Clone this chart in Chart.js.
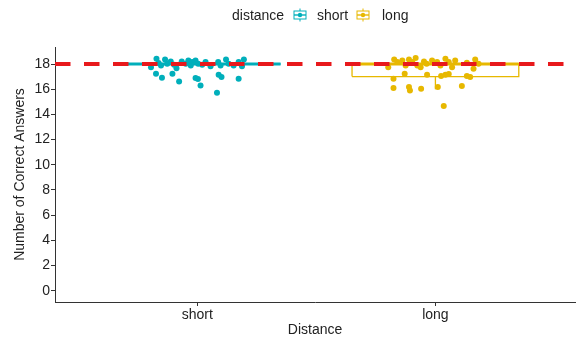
<!DOCTYPE html>
<html>
<head>
<meta charset="utf-8">
<script src="https://cdn.jsdelivr.net/npm/chart.js@4/dist/chart.umd.min.js"></script>
<style>
  html, body { margin: 0; padding: 0; background: #fff; }
  #wrap { position: relative; width: 579px; height: 344px; }
  #c { position: absolute; left: 0; top: 0; }
  .lg { position: absolute; top: 7px; font: 14px "Liberation Sans", Arial, sans-serif; color: #1f1f1f; line-height: 16px; white-space: nowrap; }
  .ic { position: absolute; top: 8px; }
</style>
</head>
<body>
<div id="wrap">
  <canvas id="c" width="579" height="344"></canvas>
</div>
<script>
// Categories, colours and axis ticks
const categories = ['short', 'long'];
const seriesColors = ['#00AFBB', '#E7B800'];
const yTicks = [0, 2, 4, 6, 8, 10, 12, 14, 16, 18];
const targetScore = 18;

// Jittered observations: x is the jittered category position, y the score
const shortX = [0.806, 0.829, 0.838, 0.848, 0.865, 0.874, 0.889, 0.903, 0.913, 0.935, 0.952, 0.963, 0.973, 0.979, 0.993, 1.004, 1.021, 1.035, 1.056, 1.088, 1.098, 1.121, 1.132, 1.153, 1.174, 1.188, 1.196,
                0.827, 0.852, 0.896, 0.924, 0.993, 1.003, 1.014, 1.090, 1.102, 1.083, 1.174];
const shortY = [17.75, 18.41, 18.07, 17.89, 18.36, 18.02, 18.20, 17.94, 17.67, 18.20, 18.02, 18.28, 17.89, 18.15, 18.28, 18.02, 17.94, 18.15, 17.83, 18.15, 17.89, 18.36, 18.02, 17.89, 18.15, 17.83, 18.36,
                17.22, 16.90, 17.22, 16.62, 16.88, 16.80, 16.30, 17.14, 16.96, 15.71, 16.83];

const longX = [1.802, 1.827, 1.840, 1.861, 1.875, 1.889, 1.903, 1.917, 1.924, 1.938, 1.952, 1.963, 1.986, 2.007, 2.021, 2.042, 2.056, 2.070, 2.083, 2.132, 2.160, 2.167, 2.181,
               1.824, 1.871, 1.965, 2.024, 2.042, 2.056, 2.132, 2.146, 1.824, 1.889, 1.893, 1.940, 2.010, 2.111, 2.035];
const longY = [17.75, 18.36, 18.15, 18.28, 17.89, 18.36, 18.15, 18.47, 17.89, 17.75, 18.20, 18.02, 18.28, 18.15, 17.89, 18.41, 18.15, 17.75, 18.28, 18.10, 17.62, 18.36, 18.02,
               16.83, 17.22, 17.14, 17.04, 17.14, 17.20, 17.04, 16.96, 16.09, 16.17, 15.90, 16.03, 16.17, 16.25, 14.66];

// Box-plot summaries per category
const boxLower = [18, 17];
const boxMedian = [18, 18];
const boxUpper = [18, 18];
const whiskerLow = [18, 16];
const whiskerHigh = [18, 18];

const X_MIN = 0.403, X_MAX = 2.586;
const BOX_HALF = 0.35;
const FONT = '"Liberation Sans", Arial, sans-serif';
const INK = '#222222';

function toPoints(xs, ys) { return xs.map((x, i) => ({ x: x, y: ys[i] })); }

function boxOutline(i) {
  const c = i + 1, l = c - BOX_HALF, r = c + BOX_HALF;
  return [
    { x: l, y: boxLower[i] }, { x: r, y: boxLower[i] }, { x: r, y: boxUpper[i] },
    { x: l, y: boxUpper[i] }, { x: l, y: boxLower[i] },
    { x: null, y: null },
    { x: c, y: boxLower[i] }, { x: c, y: whiskerLow[i] },
    { x: null, y: null },
    { x: c, y: boxUpper[i] }, { x: c, y: whiskerHigh[i] }
  ];
}
function medianLine(i) {
  const c = i + 1;
  return [{ x: c - BOX_HALF, y: boxMedian[i] }, { x: c + BOX_HALF, y: boxMedian[i] }];
}

const datasets = [];
// dashed reference line
datasets.push({
  label: 'target', showLine: true, order: 0,
  data: [{ x: X_MIN, y: targetScore }, { x: X_MAX, y: targetScore }],
  borderColor: '#E8191C', borderWidth: 4, borderDash: [15.5, 13.5], borderCapStyle: 'butt',
  pointRadius: 0
});
// jittered points
[[shortX, shortY], [longX, longY]].forEach((s, i) => {
  datasets.push({
    label: categories[i], order: 1,
    data: toPoints(s[0], s[1]),
    backgroundColor: seriesColors[i], borderColor: seriesColors[i], borderWidth: 0,
    pointRadius: 3
  });
});
// boxes
categories.forEach((c, i) => {
  datasets.push({
    label: c + ' box', showLine: true, order: 2, spanGaps: false,
    data: boxOutline(i), borderColor: seriesColors[i], borderWidth: 1.3, pointRadius: 0,
    borderCapStyle: 'butt'
  });
  datasets.push({
    label: c + ' median', showLine: true, order: 2,
    data: medianLine(i), borderColor: seriesColors[i], borderWidth: 3.2, pointRadius: 0,
    borderCapStyle: 'butt'
  });
});

const whiteBg = {
  id: 'whiteBg',
  beforeDraw(chart) {
    const ctx = chart.ctx;
    ctx.save(); ctx.fillStyle = '#fff'; ctx.fillRect(0, 0, chart.width, chart.height); ctx.restore();
  }
};

const axisGrid = { display: true, drawOnChartArea: false, drawTicks: true, tickLength: 4, color: '#333', lineWidth: 1 };
const axisBorder = { display: true, color: '#333', width: 1 };

new Chart(document.getElementById('c'), {
  type: 'scatter',
  data: { datasets: datasets },
  plugins: [whiteBg],
  options: {
    responsive: false, animation: false, devicePixelRatio: 1,
    layout: { padding: { top: 47, right: 0, left: 0, bottom: 0 } },
    plugins: { legend: { display: false }, tooltip: { enabled: false } },
    scales: {
      x: {
        type: 'linear', min: X_MIN, max: X_MAX,
        afterBuildTicks: s => { s.ticks = categories.map((c, i) => ({ value: i + 1 })); },
        afterFit: s => { s.height = 42; },
        ticks: { callback: v => categories[v - 1], color: INK, font: { family: FONT, size: 14 }, padding: 1, maxRotation: 0 },
        grid: axisGrid, border: axisBorder,
        title: { display: true, text: 'Distance', color: INK, font: { family: FONT, size: 14 }, padding: { top: 0, bottom: 5 } }
      },
      y: {
        type: 'linear', min: -0.897, max: 19.35,
        afterBuildTicks: s => { s.ticks = yTicks.map(v => ({ value: v })); },
        afterFit: s => { s.width = 55; },
        ticks: { color: INK, font: { family: FONT, size: 14 }, padding: 1 },
        grid: axisGrid, border: axisBorder,
        title: { display: true, text: 'Number of Correct Answers', color: INK, font: { family: FONT, size: 14 }, padding: { top: 12, bottom: 0 } }
      }
    }
  }
});

// Legend above the plot
(function buildLegend() {
  const wrap = document.getElementById('wrap');
  const title = document.createElement('div');
  title.className = 'lg'; title.style.left = '232px'; title.textContent = 'distance';
  wrap.appendChild(title);
  const iconLeft = [293, 356];
  const textLeft = [317, 382];
  categories.forEach((c, i) => {
    const col = seriesColors[i];
    const svgNS = 'http://www.w3.org/2000/svg';
    const svg = document.createElementNS(svgNS, 'svg');
    svg.setAttribute('width', '14'); svg.setAttribute('height', '14');
    svg.setAttribute('class', 'ic'); svg.style.left = iconLeft[i] + 'px';
    svg.innerHTML =
      '<line x1="7" y1="0.5" x2="7" y2="13.5" stroke="' + col + '" stroke-width="1"/>' +
      '<rect x="1" y="3" width="12" height="8" fill="#fff" stroke="' + col + '" stroke-width="1"/>' +
      '<line x1="1" y1="7" x2="13" y2="7" stroke="' + col + '" stroke-width="1.4"/>' +
      '<circle cx="7" cy="7" r="2.2" fill="' + col + '"/>';
    wrap.appendChild(svg);
    const t = document.createElement('div');
    t.className = 'lg'; t.style.left = textLeft[i] + 'px'; t.textContent = c;
    wrap.appendChild(t);
  });
})();
</script>
</body>
</html>
